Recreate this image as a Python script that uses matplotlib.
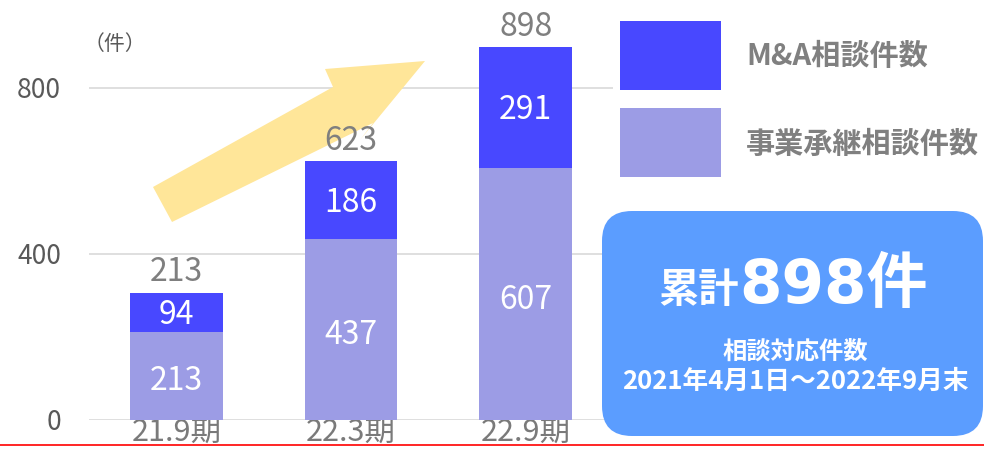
import matplotlib
matplotlib.use("Agg")
import matplotlib.pyplot as plt
from matplotlib.patches import Polygon, Rectangle, FancyBboxPatch
from matplotlib.transforms import Affine2D

plt.rcParams['font.family'] = ['Noto Sans CJK JP', 'DejaVu Sans']

# data
periods = ["21.9期", "22.3期", "22.9期"]
succession = [213, 437, 607]     # 事業承継相談件数
ma = [94, 186, 291]              # M&A相談件数
total_labels = ["213", "623", "898"]   # as printed in the original
series_names = ["M&A相談件数", "事業承継相談件数"]
yticks = [0, 400, 800]

c_ma = "#4848FF"
c_succ = "#9C9CE5"
c_box = "#5B9DFF"

W, H = 984, 449
fig = plt.figure(figsize=(W / 100, H / 100), dpi=100)
# pixel coords, origin top-left, for the decorations
pix = Affine2D().scale(1 / W, -1 / H).translate(0, 1) + fig.transFigure

ax = fig.add_axes([89 / W, 1 - 420 / H, (613 - 89) / W, (420 - 5) / H])
x = list(range(len(periods)))
b1 = ax.bar(x, succession, width=0.53, color=c_succ, zorder=2)
b2 = ax.bar(x, ma, width=0.53, bottom=succession, color=c_ma, zorder=2)

ax.bar_label(b1, label_type='center', color='white', fontsize=23, padding=-4)
ax.bar_label(b2, label_type='center', color='white', fontsize=23, padding=-2)
ax.bar_label(b2, labels=total_labels, color='#7F7F7F', fontsize=23, padding=3)

ax.set_xlim(-0.5, 2.5)
ax.set_ylim(0, 1000)
ax.set_yticks(yticks)
ax.set_xticks(x, periods)
ax.tick_params(axis='y', length=0, pad=20, labelsize=19, labelcolor='#595959')
ax.tick_params(axis='x', length=0, pad=-2, labelsize=22, labelcolor='#7A7A7A')
ax.grid(axis='y', color='#D9D9D9', linewidth=1.2)
ax.set_axisbelow(True)
for s in ax.spines.values():
    s.set_visible(False)
ax.set_facecolor('none')

# unit label
fig.text(84, 44, "（件）", transform=pix, fontsize=15, color='#595959', va='center')

# big yellow arrow
arrow = [(172, 222), (153, 187), (333, 87), (325, 69), (425, 61), (360, 140), (373, 123)]
ax.add_patch(Polygon(arrow, closed=True, transform=pix, facecolor='#FFE699',
                     edgecolor='none', clip_on=False, zorder=1))

# legend
fig.patches.append(Rectangle((620, 21), 101, 69, transform=pix, facecolor=c_ma, edgecolor='none'))
fig.patches.append(Rectangle((620, 108), 101, 69, transform=pix, facecolor=c_succ, edgecolor='none'))
fig.text(746, 56, series_names[0], transform=pix, fontsize=21, fontweight='bold',
         color='#808080', va='center')
fig.text(746, 144, series_names[1], transform=pix, fontsize=21, fontweight='bold',
         color='#808080', va='center')

# summary box
fig.patches.append(FancyBboxPatch((602, 211), 381, 225, transform=pix,
                                  boxstyle="round,pad=0,rounding_size=30",
                                  facecolor=c_box, edgecolor='none'))
fig.text(739, 290, "累計", transform=pix, fontsize=29, fontweight='bold', color='white',
         ha='right', va='center')
fig.text(739, 287, "898件", transform=pix, fontsize=44, fontweight='bold', color='white',
         ha='left', va='center', family=['DejaVu Sans', 'Noto Sans CJK JP'])
fig.text(795, 352, "相談対応件数", transform=pix, fontsize=17.5, fontweight='bold', color='white',
         ha='center', va='center')
fig.text(795, 381, "2021年4月1日～2022年9月末", transform=pix, fontsize=18.5, fontweight='bold',
         color='white', ha='center', va='center')

# red rule at the bottom edge
fig.lines.append(plt.Line2D([0, W], [445, 445], transform=pix, color='#FF0000', linewidth=1.2))

fig.savefig("out.png", dpi=100)
